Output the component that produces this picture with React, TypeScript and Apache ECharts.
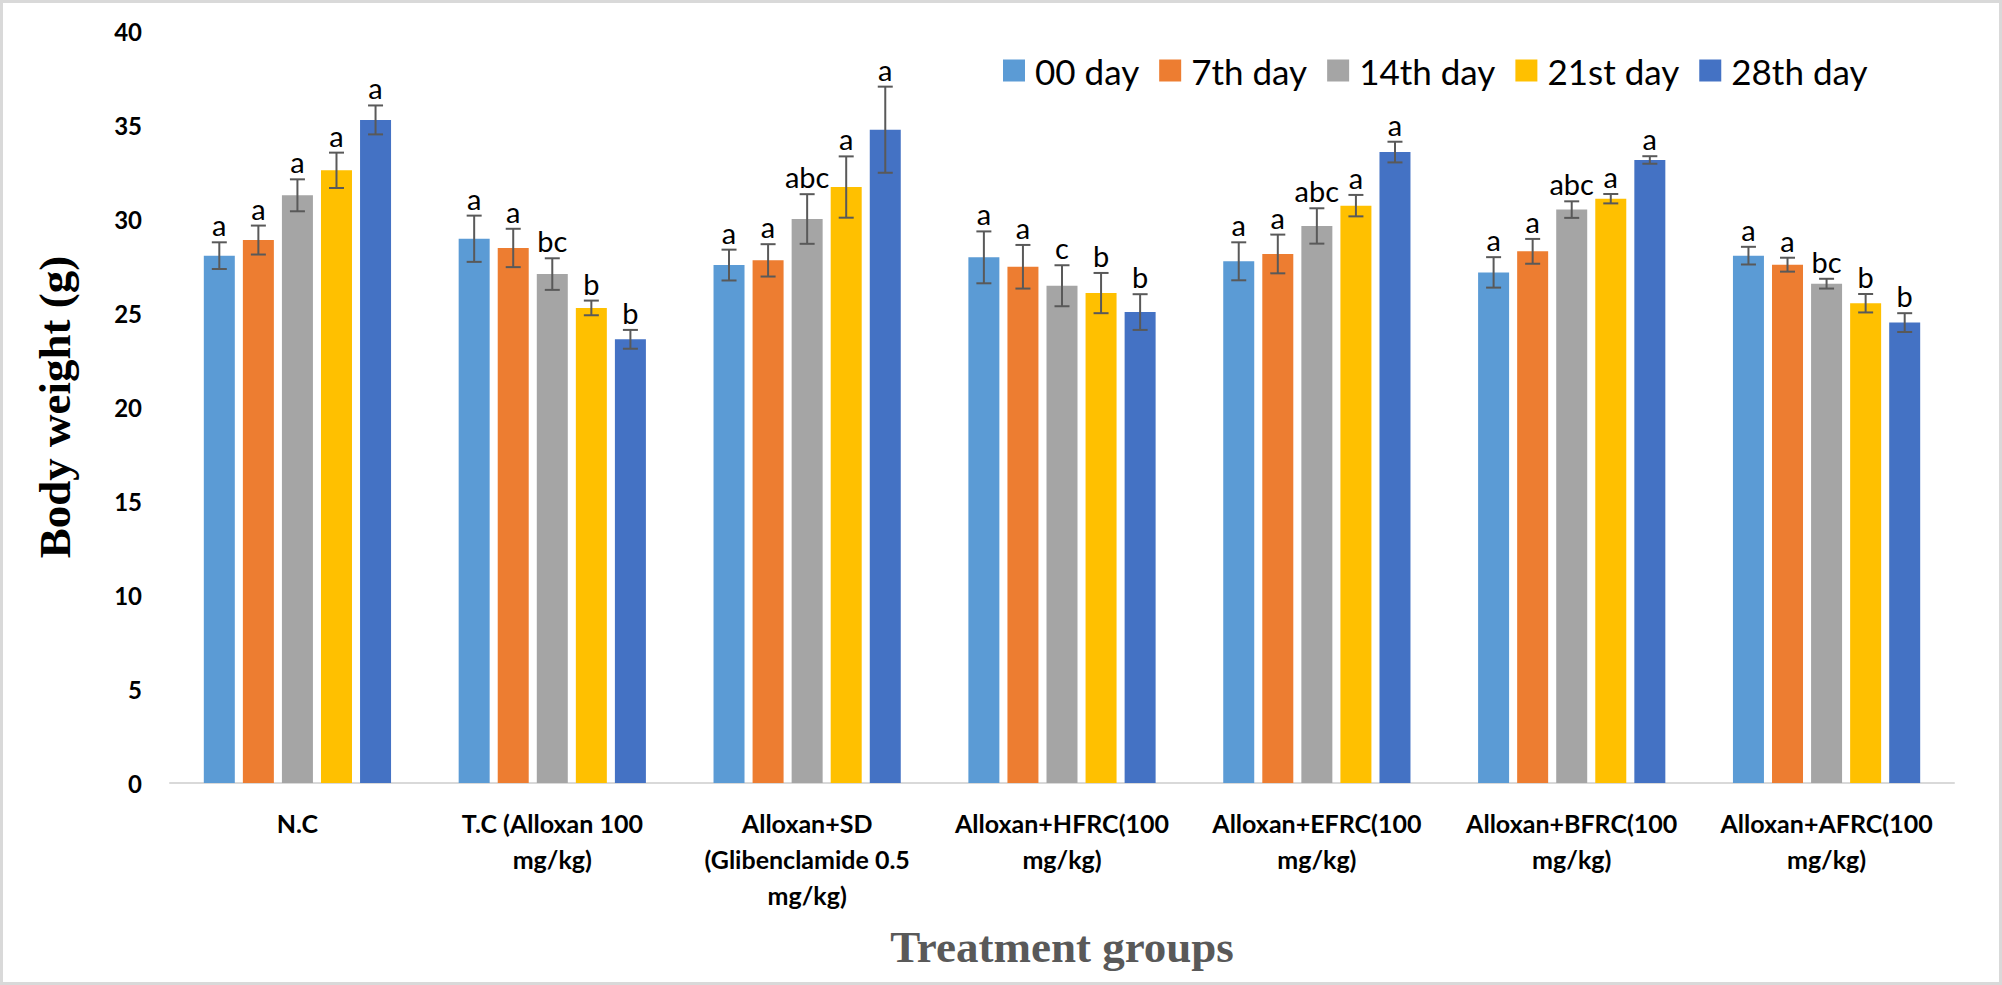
import React, { useEffect, useRef } from "react";
import * as echarts from "echarts";

const categories = [
  "N.C",
  "T.C (Alloxan 100\nmg/kg)",
  "Alloxan+SD\n(Glibenclamide 0.5\nmg/kg)",
  "Alloxan+HFRC(100\nmg/kg)",
  "Alloxan+EFRC(100\nmg/kg)",
  "Alloxan+BFRC(100\nmg/kg)",
  "Alloxan+AFRC(100\nmg/kg)",
];

const days = ["00 day", "7th day", "14th day", "21st day", "28th day"];
const dayColors = ["#5B9BD5", "#ED7D31", "#A5A5A5", "#FFC000", "#4472C4"];

const day00 = [28.05, 28.95, 27.55, 27.96, 27.75, 27.16, 28.05];
const day07 = [28.88, 28.46, 27.8, 27.46, 28.14, 28.28, 27.57];
const day14 = [31.26, 27.07, 30.0, 26.45, 29.63, 30.5, 26.56];
const day21 = [32.59, 25.27, 31.7, 26.06, 30.71, 31.08, 25.52];
const day28 = [35.27, 23.6, 34.75, 25.05, 33.56, 33.14, 24.49];

const err00 = [0.71, 1.23, 0.82, 1.38, 1.01, 0.81, 0.47];
const err07 = [0.77, 1.02, 0.86, 1.16, 1.03, 0.66, 0.37];
const err14 = [0.85, 0.84, 1.32, 1.09, 0.94, 0.44, 0.26];
const err21 = [0.94, 0.39, 1.63, 1.07, 0.57, 0.25, 0.49];
const err28 = [0.77, 0.5, 2.29, 0.95, 0.55, 0.2, 0.5];

const let00 = ["a", "a", "a", "a", "a", "a", "a"];
const let07 = ["a", "a", "a", "a", "a", "a", "a"];
const let14 = ["a", "bc", "abc", "c", "abc", "abc", "bc"];
const let21 = ["a", "b", "a", "b", "a", "a", "b"];
const let28 = ["a", "b", "a", "b", "a", "a", "b"];

const yMin = 0;
const yMax = 40;
const yInterval = 5;

const values = [day00, day07, day14, day21, day28];
const errors = [err00, err07, err14, err21, err28];
const letters = [let00, let07, let14, let21, let28];

const BAR_W = 31;
const BAR_GAP = 0.26;
const FONT = "Lato, 'Open Sans', sans-serif";

export default function App() {
  const ref = useRef<HTMLDivElement>(null);

  useEffect(() => {
    if (!ref.current) return;
    const chart = echarts.init(ref.current, null, { renderer: "svg" });
    const pitch = BAR_W * (1 + BAR_GAP);
    const n = days.length;

    const barSeries = days.map((d, k) => ({
      name: d,
      type: "bar",
      barWidth: BAR_W,
      barGap: BAR_GAP * 100 + "%",
      itemStyle: { color: dayColors[k] },
      data: values[k],
      z: 2,
    }));

    const errSeries = days.map((d, k) => ({
      name: d + " err",
      type: "custom",
      z: 4,
      data: values[k].map((v, i) => [i, v, errors[k][i]]),
      encode: { x: 0, y: 1 },
      renderItem: (params: any, api: any) => {
        const cat = api.value(0);
        const v = api.value(1);
        const e = api.value(2);
        const off = (k - (n - 1) / 2) * pitch;
        const top = api.coord([cat, v + e]);
        const bot = api.coord([cat, v - e]);
        const x = top[0] + off;
        const cap = 7.5;
        const ls = { stroke: "#595959", lineWidth: 2 };
        return {
          type: "group",
          children: [
            { type: "line", shape: { x1: x, y1: top[1], x2: x, y2: bot[1] }, style: ls },
            { type: "line", shape: { x1: x - cap, y1: top[1], x2: x + cap, y2: top[1] }, style: ls },
            { type: "line", shape: { x1: x - cap, y1: bot[1], x2: x + cap, y2: bot[1] }, style: ls },
            {
              type: "text",
              style: {
                text: letters[k][params.dataIndex],
                x: x,
                y: top[1] - 3,
                align: "center",
                verticalAlign: "bottom",
                fontSize: 29,
                fontFamily: FONT,
                fill: "#000",
              },
            },
          ],
        };
      },
    }));

    chart.setOption({
      animation: false,
      backgroundColor: "#ffffff",
      grid: { left: 170, right: 48, top: 31, bottom: 202, containLabel: false },
      legend: {
        data: days,
        left: 998,
        top: 48,
        icon: "rect",
        itemWidth: 22,
        itemHeight: 22,
        itemGap: 20,
        textStyle: { fontSize: 35, color: "#000", fontFamily: FONT, padding: [0, 0, 0, 5] },
      },
      xAxis: {
        type: "category",
        data: categories,
        name: "Treatment groups",
        nameLocation: "middle",
        nameGap: 164,
        nameTextStyle: {
          fontFamily: "'Liberation Serif', 'Times New Roman', serif",
          fontWeight: "bold",
          fontSize: 45,
          color: "#595959",
          verticalAlign: "middle",
        },
        axisTick: { show: false },
        axisLine: { lineStyle: { color: "#D9D9D9", width: 2 } },
        axisLabel: {
          interval: 0,
          fontSize: 25,
          fontWeight: "bold",
          fontFamily: FONT,
          color: "#000",
          lineHeight: 36,
          margin: 22,
        },
      },
      yAxis: {
        type: "value",
        min: yMin,
        max: yMax,
        interval: yInterval,
        name: "Body weight (g)",
        nameLocation: "middle",
        nameGap: 115,
        nameRotate: 90,
        nameTextStyle: {
          fontFamily: "'Liberation Serif', 'Times New Roman', serif",
          fontWeight: "bold",
          fontSize: 45,
          color: "#000",
          verticalAlign: "middle",
        },
        splitLine: { show: false },
        axisLine: { show: false },
        axisTick: { show: false },
        axisLabel: { fontSize: 24, fontWeight: "bold", fontFamily: FONT, color: "#000", margin: 28 },
      },
      graphic: [
        {
          type: "rect",
          silent: true,
          shape: { x: 1.5, y: 1.5, width: 1999, height: 982 },
          style: { fill: "none", stroke: "#D9D9D9", lineWidth: 3 },
        },
      ],
      series: [...barSeries, ...errSeries],
    });

    return () => chart.dispose();
  }, []);

  return (
    <div
      ref={ref}
      style={{ position: "absolute", left: 0, top: 0, width: 2002, height: 985, background: "#fff" }}
    />
  );
}
